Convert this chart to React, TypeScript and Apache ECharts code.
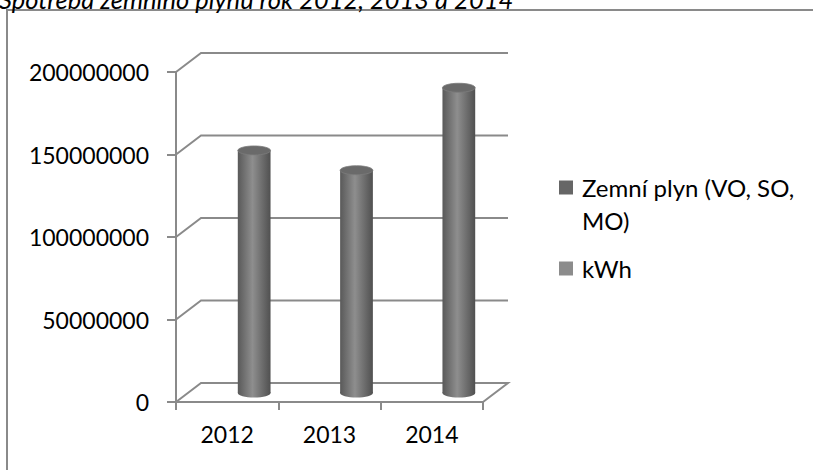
import React, { useEffect, useRef } from 'react';
import * as echarts from 'echarts';

const categories = ['2012', '2013', '2014'];
const gasValues = [147000000, 135000000, 185000000];
const yTicks = [0, 50000000, 100000000, 150000000, 200000000];
const seriesNames = ['Zemní plyn (VO, SO, MO)', 'kWh'];
const titleText = 'Spotřeba zemního plynu rok 2012, 2013 a 2014';

const FONT = 'Lato, "Open Sans", sans-serif';
const GRID_COLOR = '#8a8a8a';
const LINE_W = 2;
const DEPTH_X = 25;
const DEPTH_Y = -19;
const BAR_X = 27;
const BAR_Y = -9;

export default function App() {
  const ref = useRef<HTMLDivElement>(null);
  useEffect(() => {
    const chart = echarts.init(ref.current!, null, { renderer: 'svg' });
    const option: any = {
      animation: false,
      backgroundColor: '#ffffff',
      title: {
        text: titleText,
        left: -1,
        top: -14,
        padding: 0,
        textStyle: { fontFamily: FONT, fontSize: 25.5, fontStyle: 'italic', fontWeight: 'normal', color: '#000' },
      },
      legend: {
        orient: 'vertical',
        left: 559,
        top: 138,
        padding: 0,
        itemWidth: 14,
        itemHeight: 14,
        itemGap: 15,
        icon: 'rect',
        selectedMode: false,
        data: seriesNames,
        formatter: (name: string) =>
          name === seriesNames[0] ? '\n' + name.replace('SO, ', 'SO,\n') : name,
        textStyle: {
          fontFamily: FONT,
          fontSize: 24,
          color: '#000',
          lineHeight: 33,
          padding: [0, 0, 0, 4],
        },
      },
      grid: { left: 176, right: 330, top: 72, bottom: 68 },
      xAxis: {
        type: 'category',
        data: categories,
        axisLine: { show: true, lineStyle: { color: GRID_COLOR, width: LINE_W } },
        axisTick: { show: true, length: 8, lineStyle: { color: GRID_COLOR, width: LINE_W } },
        axisLabel: { fontFamily: FONT, fontSize: 23, color: '#000', margin: 20 },
        splitLine: { show: false },
      },
      yAxis: {
        type: 'value',
        min: 0,
        max: 200000000,
        interval: 50000000,
        axisLine: { show: true, lineStyle: { color: GRID_COLOR, width: LINE_W } },
        axisTick: { show: true, length: 9, lineStyle: { color: GRID_COLOR, width: LINE_W } },
        axisLabel: {
          fontFamily: FONT,
          fontSize: 23,
          color: '#000',
          margin: 27,
          formatter: (v: number) => String(v),
        },
        splitLine: { show: false },
      },
      graphic: [
        {
          type: 'rect',
          silent: true,
          z: -10,
          shape: { x: 7, y: 10, width: 860, height: 520 },
          style: { fill: 'none', stroke: '#8a8a8a', lineWidth: 2 },
        },
      ],
      series: [
        {
          type: 'custom',
          name: 'walls',
          silent: true,
          z: 1,
          data: yTicks.map((v) => [0, v]),
          renderItem: (params: any, api: any) => {
            const cs = params.coordSys;
            const v = api.value(1);
            const y = api.coord([0, v])[1];
            const left = cs.x;
            const right = cs.x + cs.width;
            const pts: number[][] = [
              [left, y],
              [left + DEPTH_X, y + DEPTH_Y],
              [right + DEPTH_X, y + DEPTH_Y],
            ];
            if (v === 0) pts.push([right, y]);
            return {
              type: 'polyline',
              shape: { points: pts },
              style: { stroke: GRID_COLOR, lineWidth: LINE_W, fill: null },
            };
          },
        },
        {
          type: 'custom',
          name: seriesNames[0],
          z: 3,
          itemStyle: { color: '#666666' },
          data: categories.map((c, i) => [i, gasValues[i]]),
          renderItem: (params: any, api: any) => {
            const i = api.value(0);
            const v = api.value(1);
            const base = api.coord([i, 0]);
            const top = api.coord([i, v]);
            const w = api.size([1, 0])[0] * 0.32;
            const cx = base[0] + BAR_X;
            const yb = base[1] + BAR_Y;
            const yt = top[1] + BAR_Y;
            const rx = w / 2;
            const ry = 4.5;
            const grad = () =>
              new echarts.graphic.LinearGradient(0, 0, 1, 0, [
                { offset: 0, color: '#595959' },
                { offset: 0.45, color: '#8e8e8e' },
                { offset: 1, color: '#505050' },
              ]);
            return {
              type: 'group',
              children: [
                { type: 'ellipse', shape: { cx, cy: yb, rx, ry }, style: { fill: grad() } },
                { type: 'rect', shape: { x: cx - rx, y: yt, width: w, height: yb - yt }, style: { fill: grad() } },
                {
                  type: 'ellipse',
                  shape: { cx, cy: yt, rx, ry },
                  style: { fill: '#6a6a6a', stroke: '#7c7c7c', lineWidth: 0.8 },
                },
              ],
            };
          },
        },
        {
          type: 'custom',
          name: seriesNames[1],
          itemStyle: { color: '#8c8c8c' },
          data: [],
          renderItem: () => ({ type: 'group', children: [] }),
        },
      ],
    };
    chart.setOption(option);
    return () => chart.dispose();
  }, []);
  return <div ref={ref} style={{ position: 'fixed', left: 0, top: 0, width: 813, height: 470 }} />;
}
